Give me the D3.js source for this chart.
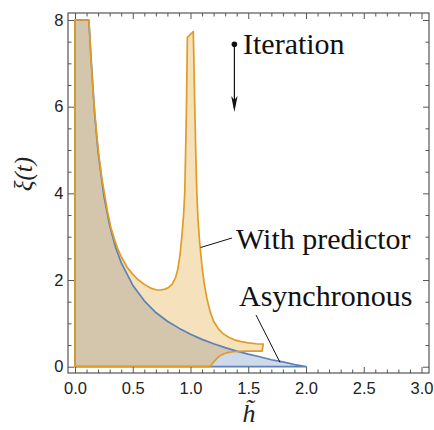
<!DOCTYPE html>
<html><head><meta charset="utf-8">
<script src="https://cdn.jsdelivr.net/npm/d3@7"></script>
<style>body{margin:0;background:#fff}svg{display:block}
.serif{font-family:"Liberation Serif","DejaVu Serif","Noto Serif","FreeSerif","Nimbus Roman","Times New Roman",Times,serif}
</style>
</head><body>
<svg id="c" width="434" height="430"></svg>
<script>
// Asynchronous region boundary (upper curve), h̃ vs ξ(t)
const asyncH  = [0.12,0.14,0.17,0.20,0.25,0.30,0.35,0.40,0.50,0.60,0.70,0.80,0.90,1.00,1.10,1.20,1.30,1.40,1.50,1.60,1.70,1.80,1.90,2.00];
const asyncXi = [8.00,7.10,5.84,4.95,3.94,3.26,2.77,2.40,1.88,1.52,1.25,1.05,0.89,0.75,0.63,0.53,0.44,0.36,0.29,0.23,0.16,0.11,0.05,0.00];

// "With predictor" region outline (closed polygon)
const predH  = [0,0,0.12,0.13,0.14,0.155,0.17,0.19,0.21,0.23,0.25,0.28,0.31,0.34,0.37,0.40,0.45,0.50,0.55,0.60,0.65,0.70,0.74,0.78,0.81,0.84,0.87,0.89,0.91,0.925,0.94,0.95,0.958,0.965,0.97,0.973,1.024,1.03,1.037,1.045,1.055,1.065,1.08,1.10,1.12,1.14,1.17,1.20,1.24,1.28,1.33,1.38,1.44,1.50,1.57,1.63,1.62,1.55,1.48,1.42,1.37,1.33,1.29,1.26,1.235,1.215,1.195,1.18,1.165,0];
const predXi = [0,8,8,7.5,7.0,6.4,5.9,5.3,4.8,4.4,4.07,3.6,3.22,2.95,2.72,2.54,2.30,2.13,2.00,1.90,1.82,1.775,1.77,1.79,1.83,1.90,2.05,2.25,2.60,3.0,3.5,4.0,5.0,6.0,7.0,7.6,7.73,7.0,6.0,5.0,4.0,3.4,2.85,2.3,1.9,1.6,1.27,1.05,0.88,0.77,0.68,0.62,0.58,0.55,0.53,0.52,0.36,0.36,0.36,0.355,0.345,0.33,0.30,0.26,0.21,0.15,0.09,0.04,0,0];

const xMajor = [0,0.5,1.0,1.5,2.0,2.5,3.0];
const xMajorLabels = ["0.0","0.5","1.0","1.5","2.0","2.5","3.0"];
const yMajor = [0,2,4,6,8];
const yMajorLabels = ["0","2","4","6","8"];

const svg = d3.select("#c");
const L=68, R=429, T=13, B=373;
const x = d3.scaleLinear().domain([0,3]).range([75,421.5]);
const y = d3.scaleLinear().domain([0,8]).range([366.7,20]);

const blueLine="#5E81B5", orangeLine="#E19C24";

svg.append("defs").append("clipPath").attr("id","clip")
  .append("rect").attr("x",L).attr("y",T).attr("width",R-L).attr("height",B-T);

const g = svg.append("g").attr("clip-path","url(#clip)");

const asyncPts = [[0,0],[0,8]].concat(asyncH.map((h,i)=>[h,asyncXi[i]])).concat([[0,0]]);
const predPts = predH.map((h,i)=>[h,predXi[i]]);
const line = d3.line().x(d=>x(d[0])).y(d=>y(d[1])).curve(d3.curveLinearClosed);

g.append("path").attr("d",line(asyncPts)).attr("fill",blueLine).attr("fill-opacity",0.3).attr("stroke","none");
g.append("path").attr("d",line(predPts)).attr("fill",orangeLine).attr("fill-opacity",0.3).attr("stroke","none");
g.append("path").attr("d",line(asyncPts)).attr("fill","none").attr("stroke",blueLine).attr("stroke-width",1.7).attr("stroke-linejoin","round");
g.append("path").attr("d",line(predPts)).attr("fill","none").attr("stroke",orangeLine).attr("stroke-width",1.7).attr("stroke-linejoin","round");

// Frame and ticks
const frameCol="#555";
function styleAxis(sel){
  sel.select(".domain").remove();
  sel.selectAll(".tick line").attr("stroke",frameCol).attr("stroke-width",1);
  sel.selectAll(".tick text").attr("fill","#222").attr("font-family","'Liberation Sans',Arial,sans-serif").attr("font-size",16.5);
}
const xMinor = d3.range(0,3.01,0.1).map(v=>+v.toFixed(2)).filter(v=>!xMajor.some(m=>Math.abs(m-v)<1e-6));
const yMinor = d3.range(0,8.01,0.5).filter(v=>!yMajor.includes(v));

const ax = svg.append("g").attr("transform",`translate(0,${B})`)
  .call(d3.axisBottom(x).tickValues(xMajor).tickFormat((d,i)=>xMajorLabels[i]).tickSizeInner(-6).tickSizeOuter(0).tickPadding(8.8));
styleAxis(ax);
styleAxis(svg.append("g").attr("transform",`translate(0,${B})`).call(d3.axisBottom(x).tickValues(xMinor).tickFormat("").tickSizeInner(-3.5).tickSizeOuter(0)));
styleAxis(svg.append("g").attr("transform",`translate(0,${T})`).call(d3.axisTop(x).tickValues(xMajor).tickFormat("").tickSizeInner(-6).tickSizeOuter(0)));
styleAxis(svg.append("g").attr("transform",`translate(0,${T})`).call(d3.axisTop(x).tickValues(xMinor).tickFormat("").tickSizeInner(-3.5).tickSizeOuter(0)));

const ay = svg.append("g").attr("transform",`translate(${L},0)`)
  .call(d3.axisLeft(y).tickValues(yMajor).tickFormat((d,i)=>yMajorLabels[i]).tickSizeInner(-6).tickSizeOuter(0).tickPadding(4.7));
styleAxis(ay);
styleAxis(svg.append("g").attr("transform",`translate(${L},0)`).call(d3.axisLeft(y).tickValues(yMinor).tickFormat("").tickSizeInner(-3.5).tickSizeOuter(0)));
styleAxis(svg.append("g").attr("transform",`translate(${R},0)`).call(d3.axisRight(y).tickValues(yMajor).tickFormat("").tickSizeInner(-6).tickSizeOuter(0)));
styleAxis(svg.append("g").attr("transform",`translate(${R},0)`).call(d3.axisRight(y).tickValues(yMinor).tickFormat("").tickSizeInner(-3.5).tickSizeOuter(0)));

svg.append("rect").attr("x",L).attr("y",T).attr("width",R-L).attr("height",B-T)
  .attr("fill","none").attr("stroke",frameCol).attr("stroke-width",1.2);

// Axis labels
svg.append("text").attr("class","serif").attr("transform","translate(32,174) rotate(-90)").attr("text-anchor","middle")
  .attr("font-style","italic").attr("font-size",25).attr("fill","#222").text("ξ(t)");
svg.append("text").attr("class","serif").attr("x",249).attr("y",422).attr("text-anchor","middle")
  .attr("font-style","italic").attr("font-size",26).attr("fill","#222").text("h\u0303");

// Annotations
const ann = svg.append("g").attr("class","serif").attr("font-size",30).attr("fill","#111");
const ax0=x(1.38), ay0=y(7.44), ay1=y(5.88);
svg.append("line").attr("x1",ax0).attr("x2",ax0).attr("y1",ay0).attr("y2",ay1-4).attr("stroke","#111").attr("stroke-width",1.2);
svg.append("circle").attr("cx",ax0).attr("cy",ay0).attr("r",2.8).attr("fill","#111");
svg.append("path").attr("d",`M${ax0},${ay1} L${ax0-3.2},${ay1-16} L${ax0},${ay1-12} L${ax0+3.2},${ay1-16} Z`).attr("fill","#111");
ann.append("text").attr("x",243).attr("y",53.5).text("Iteration");
svg.append("line").attr("x1",x(1.087)).attr("y1",y(2.75)).attr("x2",232).attr("y2",238).attr("stroke","#111").attr("stroke-width",1);
ann.append("text").attr("x",236).attr("y",248.5).text("With predictor");
svg.append("line").attr("x1",256).attr("y1",315).attr("x2",x(1.775)).attr("y2",y(0.1)).attr("stroke","#111").attr("stroke-width",1);
ann.append("text").attr("x",239).attr("y",306).text("Asynchronous");
</script>
</body></html>
